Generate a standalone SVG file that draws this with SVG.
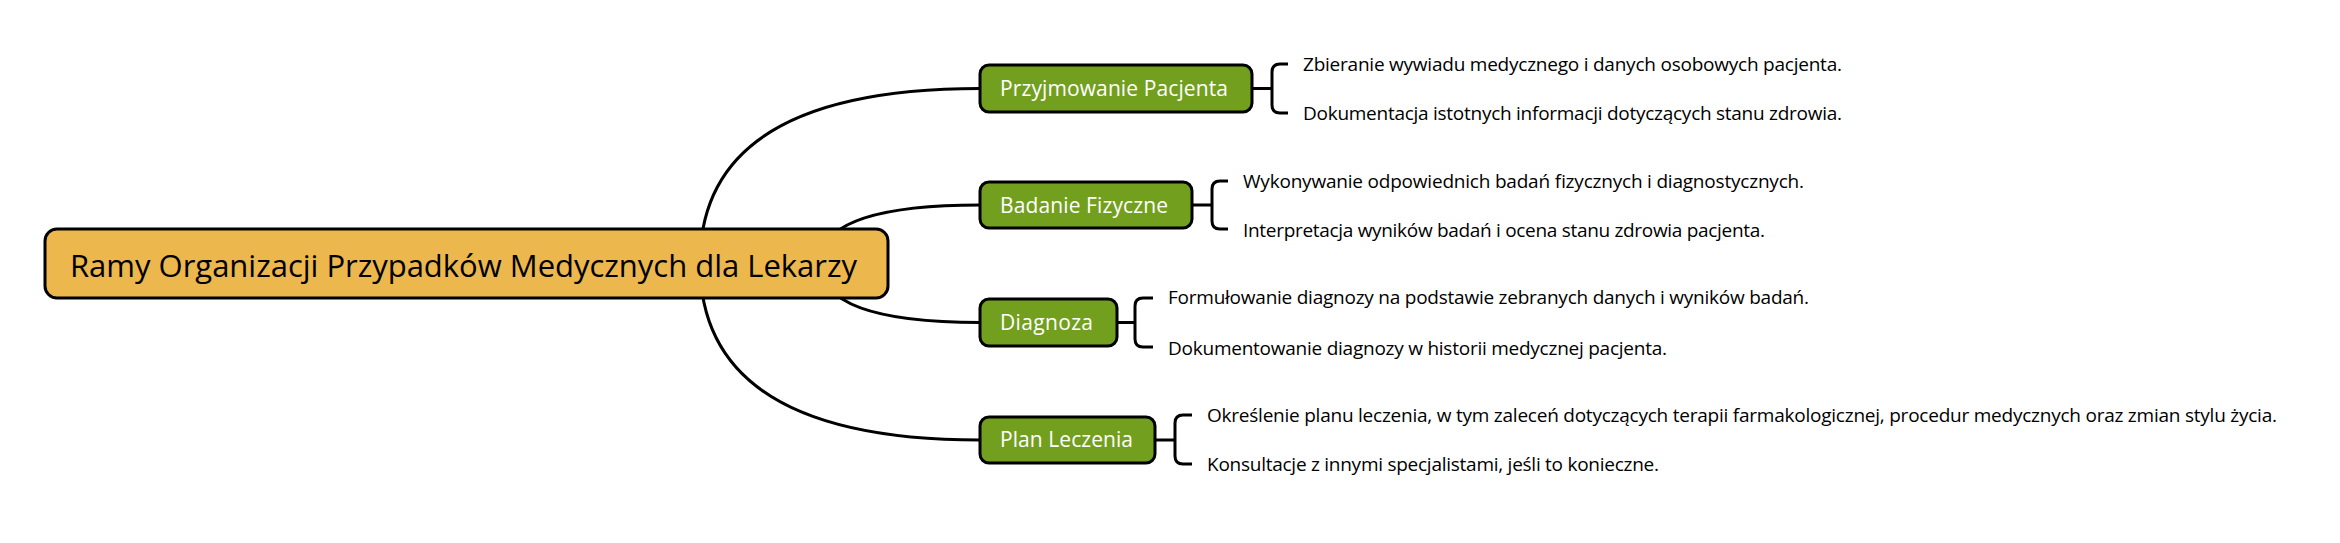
<svg xmlns="http://www.w3.org/2000/svg" width="2340" height="543" viewBox="0 0 2340 543">
<style>
.root{fill:#ECB74C;stroke:#000;stroke-width:3}
.node{fill:#739F1F;stroke:#000;stroke-width:3}
.rt{font-family:"Open Sans","Noto Sans",sans-serif;font-size:31px;fill:#000}
.nt{font-family:"Open Sans","Noto Sans",sans-serif;font-size:21px;fill:#fff}
.lt{font-family:"Open Sans","Noto Sans",sans-serif;font-size:19px;fill:#000}
.c{fill:none;stroke:#000;stroke-width:3}
</style>
<rect width="2340" height="543" fill="#fff"/>
<g id="connectors">
<path class="c" d="M700,263 Q700,88.5 980,88.5"/>
<path class="c" d="M820,263 Q820,205 980,205"/>
<path class="c" d="M820,263 Q820,322.5 980,322.5"/>
<path class="c" d="M700,263 Q700,440 980,440"/>
<path class="c" d="M1252,88.5 H1272 M1288,64 H1280 Q1272,64 1272,72 V105 Q1272,113 1280,113 H1288"/>
<path class="c" d="M1192,205 H1212 M1228,181 H1220 Q1212,181 1212,189 V221 Q1212,229 1220,229 H1228"/>
<path class="c" d="M1117,322.5 H1135 M1153,298 H1143 Q1135,298 1135,306 V339 Q1135,347 1143,347 H1153"/>
<path class="c" d="M1155,440 H1175 M1192,415 H1183 Q1175,415 1175,423 V456 Q1175,464 1183,464 H1192"/>
</g>
<g id="root">
<rect class="root" x="45" y="229" width="843" height="69" rx="12"/>
<text class="rt" x="70" y="277" textLength="787">Ramy Organizacji Przypadków Medycznych dla Lekarzy</text>
</g>
<g id="n1">
<rect class="node" x="980" y="65" width="272" height="47" rx="9"/>
<text class="nt" x="1000" y="96" textLength="228">Przyjmowanie Pacjenta</text>
</g>
<g id="n2">
<rect class="node" x="980" y="182" width="212" height="46" rx="9"/>
<text class="nt" x="1000" y="213" textLength="168">Badanie Fizyczne</text>
</g>
<g id="n3">
<rect class="node" x="980" y="299" width="137" height="47" rx="9"/>
<text class="nt" x="1000" y="330" textLength="93">Diagnoza</text>
</g>
<g id="n4">
<rect class="node" x="980" y="417" width="175" height="46" rx="9"/>
<text class="nt" x="1000" y="447" textLength="133">Plan Leczenia</text>
</g>
<g id="l1a"><text class="lt" x="1303" y="71" textLength="539">Zbieranie wywiadu medycznego i danych osobowych pacjenta.</text></g>
<g id="l1b"><text class="lt" x="1303" y="120" textLength="539">Dokumentacja istotnych informacji dotyczących stanu zdrowia.</text></g>
<g id="l2a"><text class="lt" x="1243" y="188" textLength="561">Wykonywanie odpowiednich badań fizycznych i diagnostycznych.</text></g>
<g id="l2b"><text class="lt" x="1243" y="237" textLength="522">Interpretacja wyników badań i ocena stanu zdrowia pacjenta.</text></g>
<g id="l3a"><text class="lt" x="1168" y="304" textLength="641">Formułowanie diagnozy na podstawie zebranych danych i wyników badań.</text></g>
<g id="l3b"><text class="lt" x="1168" y="355" textLength="499">Dokumentowanie diagnozy w historii medycznej pacjenta.</text></g>
<g id="l4a"><text class="lt" x="1207" y="422" textLength="1070">Określenie planu leczenia, w tym zaleceń dotyczących terapii farmakologicznej, procedur medycznych oraz zmian stylu życia.</text></g>
<g id="l4b"><text class="lt" x="1207" y="471" textLength="452">Konsultacje z innymi specjalistami, jeśli to konieczne.</text></g>
</svg>
